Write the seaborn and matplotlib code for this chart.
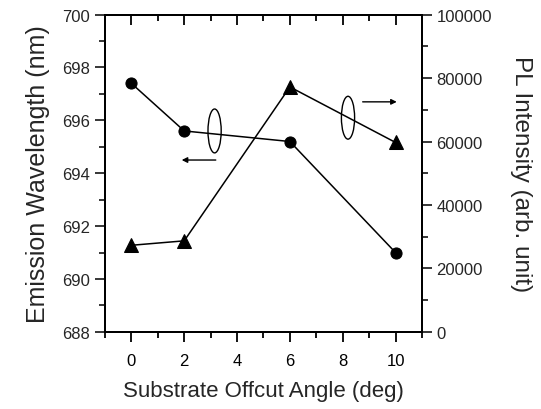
import numpy as np
import pandas as pd
import matplotlib
matplotlib.use("Agg")
import matplotlib.pyplot as plt
from matplotlib.patches import Ellipse
from matplotlib.ticker import MultipleLocator
import seaborn as sns

angles = [0, 2, 6, 10]
wavelength = [697.4, 695.6, 695.2, 691.0]
intensity = [27300, 28700, 77200, 59700]

x_label = "Substrate Offcut Angle (deg)"
y_label = "Emission Wavelength (nm)"
y2_label = "PL Intensity (arb. unit)"

sns.set_theme(style="ticks")
plt.rcParams['font.family'] = ['Liberation Sans', 'DejaVu Sans']

df = pd.DataFrame({"angle": angles, "wl": wavelength, "pl": intensity})

fig = plt.figure(figsize=(5.41, 4.10), dpi=100)
ax = fig.add_axes([0.194, 0.188, 0.586, 0.774])
ax2 = ax.twinx()

sns.lineplot(data=df, x="angle", y="wl", ax=ax, color="black", marker="o",
             markersize=8, linewidth=1.1, markeredgecolor="black")
sns.lineplot(data=df, x="angle", y="pl", ax=ax2, color="black", marker="^",
             markersize=9.5, linewidth=1.1, markeredgecolor="black")

ax.set_xlim(-1, 11)
ax.set_ylim(688, 700)
ax2.set_ylim(0, 100000)
ax.xaxis.set_major_locator(MultipleLocator(2))
ax.xaxis.set_minor_locator(MultipleLocator(1))
ax.yaxis.set_major_locator(MultipleLocator(2))
ax.yaxis.set_minor_locator(MultipleLocator(1))
ax2.yaxis.set_major_locator(MultipleLocator(20000))
ax2.yaxis.set_minor_locator(MultipleLocator(10000))

for a in (ax, ax2):
    for s in a.spines.values():
        s.set_visible(True)
        s.set_linewidth(1.4)
        s.set_color("black")

# bottom ticks outward
ax.tick_params(axis="x", which="both", top=False, bottom=True, direction="out",
               labelsize=12, colors="black", width=1.3, pad=8)
ax.tick_params(axis="x", which="major", length=7)
ax.tick_params(axis="x", which="minor", length=4)
# top ticks inward via the twin axis
ax2.xaxis.set_visible(True)
ax2.set_xlabel("")
ax2.tick_params(axis="x", which="both", top=True, bottom=False, labeltop=False,
                labelbottom=False, direction="in", width=1.3, colors="black")
ax2.tick_params(axis="x", which="major", length=7)
ax2.tick_params(axis="x", which="minor", length=4)

ax.tick_params(axis="y", which="major", length=7, width=1.3, labelsize=12, direction="out")
ax.tick_params(axis="y", which="minor", length=4, width=1.3, direction="out")
ax2.tick_params(axis="y", which="major", length=7, width=1.3, labelsize=12, direction="out")
ax2.tick_params(axis="y", which="minor", length=4, width=1.3, direction="out")

ax.set_xlabel(x_label, fontsize=16, labelpad=9)
ax.set_ylabel(y_label, fontsize=18, labelpad=9)
ax2.set_ylabel(y2_label, fontsize=17.5, rotation=-90, labelpad=29)

# annotations
ax.add_patch(Ellipse((3.15, 695.6), 0.5, 1.66, fill=False, edgecolor="black", linewidth=1.0))
ax.annotate("", xy=(1.8, 694.5), xytext=(3.3, 694.5),
            arrowprops=dict(arrowstyle="-|>", color="black", lw=1.0, mutation_scale=8))
ax.add_patch(Ellipse((8.2, 696.1), 0.5, 1.62, fill=False, edgecolor="black", linewidth=1.0))
ax.annotate("", xy=(10.15, 696.7), xytext=(8.65, 696.7),
            arrowprops=dict(arrowstyle="-|>", color="black", lw=1.0, mutation_scale=8))

fig.savefig("out.png", dpi=100)
